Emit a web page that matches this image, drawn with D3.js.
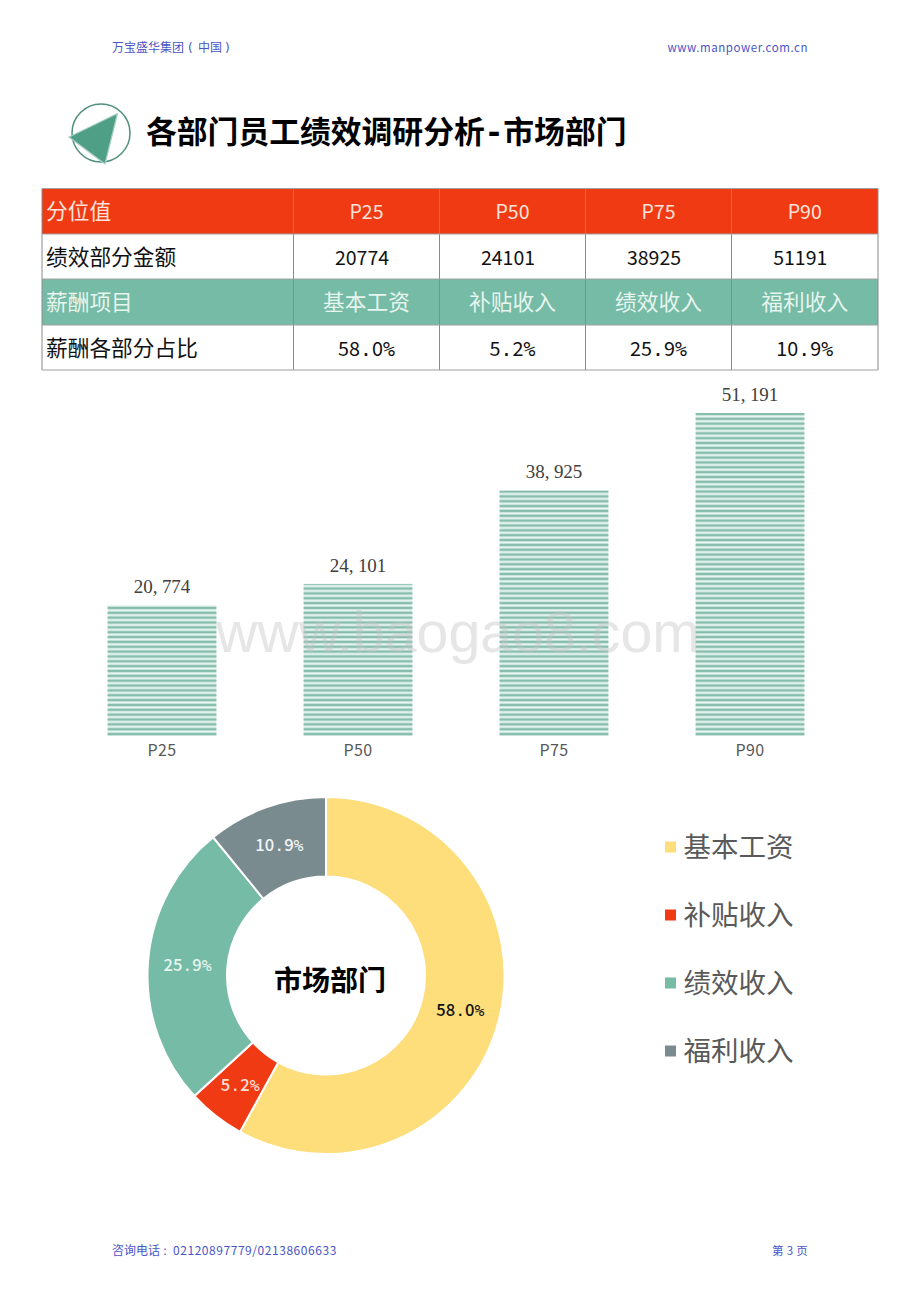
<!DOCTYPE html>
<html>
<head>
<meta charset="utf-8">
<title>市场部门</title>
<script src="https://d3js.org/d3.v7.min.js"></script>
<style>
html, body { margin: 0; padding: 0; background: #fff; }
text { font-family: "Noto Sans CJK SC", "Noto Sans", sans-serif; }
</style>
</head>
<body>
<div id="page"></div>
<script>
var percentiles = ['P25', 'P50', 'P75', 'P90'];
var amounts = [20774, 24101, 38925, 51191];
var payItems = ['基本工资', '补贴收入', '绩效收入', '福利收入'];
var payShares = [58.0, 5.2, 25.9, 10.9];
var payColors = ['#fdde7b', '#ef3a14', '#76bba5', '#7a8b90'];
var donutLabelColors = ['#111', '#fde0d8', '#e6f5ef', '#f2f5f5'];

var W = 920, H = 1302;
var linkBlue = '#4a55c8';
var monoFont = '"DejaVu Sans Mono", monospace';
var svg = d3.select('#page').append('svg')
    .attr('width', W).attr('height', H).style('display', 'block');

// stripes for the bars
var pattern = svg.append('defs').append('pattern')
    .attr('id', 'stripes').attr('patternUnits', 'userSpaceOnUse')
    .attr('width', 8).attr('height', 4.85).attr('y', 736);
pattern.append('rect').attr('width', 8).attr('height', 4.85).attr('fill', '#eaf7f3');
pattern.append('rect').attr('width', 8).attr('height', 2.6).attr('y', 1.6).attr('fill', '#86bdac');

function label(x, y, txt, size, color, anchor) {
    return svg.append('text').attr('x', x).attr('y', y).text(txt)
        .attr('font-size', size).attr('fill', color).attr('text-anchor', anchor || 'start');
}

// 58.0% style text: the dot and the percent sign are wider in the reference
function writeShare(sel, value) {
    var parts = value.toFixed(1).split('.');
    sel.append('tspan').text(parts[0]);
    sel.append('tspan').text('.').style('font-family', monoFont);
    sel.append('tspan').text(parts[1]);
    sel.append('tspan').text('%').style('font-family', monoFont);
}

// header and footer
var company = label(112, 52, '万宝盛华集团', 12, linkBlue);
company.append('tspan').attr('x', 188).text('(').style('font-family', '"DejaVu Sans"');
company.append('tspan').attr('x', 198).text('中国');
company.append('tspan').attr('x', 225).text(')').style('font-family', '"DejaVu Sans"');
label(808, 52, 'www.manpower.com.cn', 11.5, linkBlue, 'end').style('letter-spacing', '0.55px');
var phone = label(112, 1255, '咨询电话', 12, linkBlue);
phone.append('tspan').attr('x', 163).text(':').style('font-family', '"DejaVu Sans"');
phone.append('tspan').attr('x', 173).text('02120897779/02138606633').style('letter-spacing', '0.55px');
label(808, 1255, '第 3 页', 11.5, linkBlue, 'end').style('letter-spacing', '0.3px');

// logo
svg.append('circle').attr('cx', 101).attr('cy', 133).attr('r', 29)
    .attr('fill', 'none').attr('stroke', '#4f8f7e').attr('stroke-width', 1.5);
svg.append('path').attr('d', 'M117.5,113.5L69,137L105,164Z')
    .attr('fill', '#4f9f87').attr('stroke', '#a9cfc4').attr('stroke-width', 1.2);

var title = label(146, 143, '各部门员工绩效调研分析', 30.8, '#000').attr('font-weight', 700);
title.append('tspan').text('-').style('font-family', monoFont);
title.append('tspan').text('市场部门');

// table
var colEdges = [42, 293.5, 439.5, 585.5, 731.5, 878];
var rowEdges = [188.5, 234, 279, 325, 370];
var tableRows = [
    { head: '分位值', cells: percentiles, fill: '#ef3a14', color: '#fde3da', size: 19.5, dx: 0 },
    { head: '绩效部分金额', cells: amounts.map(String), fill: '#fff', color: '#111', size: 19.5, dx: -4.5 },
    { head: '薪酬项目', cells: payItems, fill: '#76bba5', color: '#e6f5ef', size: 21.7, dx: 0 },
    { head: '薪酬各部分占比', cells: payShares, fill: '#fff', color: '#111', size: 19.8, dx: 0 }
];
var table = svg.append('g');
tableRows.forEach(function(row, r) {
    table.append('rect').attr('x', colEdges[0]).attr('y', rowEdges[r])
        .attr('width', colEdges[5] - colEdges[0]).attr('height', rowEdges[r + 1] - rowEdges[r])
        .attr('fill', row.fill);
    var my = (rowEdges[r] + rowEdges[r + 1]) / 2 + 8;
    table.append('text').attr('x', colEdges[0] + 4).attr('y', my).text(row.head)
        .attr('font-size', 21.7).attr('fill', row.color);
    row.cells.forEach(function(c, i) {
        var t = table.append('text').attr('x', (colEdges[i + 1] + colEdges[i + 2]) / 2 + row.dx).attr('y', my)
            .attr('text-anchor', 'middle').attr('fill', row.color).attr('font-size', row.size);
        if (typeof c === 'number') writeShare(t, c);
        else t.text(c);
    });
});
colEdges.forEach(function(x) {
    table.append('line').attr('x1', x).attr('x2', x)
        .attr('y1', rowEdges[0]).attr('y2', rowEdges[4]).attr('stroke', '#8a8a8a');
});
rowEdges.forEach(function(y) {
    table.append('line').attr('x1', colEdges[0]).attr('x2', colEdges[5])
        .attr('y1', y).attr('y2', y).attr('stroke', '#a0a0a0');
});

// bars
var xBar = d3.scaleBand().domain(percentiles).range([64, 848]).paddingInner(0.4444).paddingOuter(0.2222);
var yBar = d3.scaleLinear().domain([0, 51191]).range([736, 413]);
svg.selectAll('.bar').data(amounts).enter().append('rect')
    .attr('class', 'bar')
    .attr('x', function(d, i) { return xBar(percentiles[i]); })
    .attr('y', function(d) { return yBar(d); })
    .attr('width', xBar.bandwidth())
    .attr('height', function(d) { return 736 - yBar(d); })
    .attr('fill', 'url(#stripes)');
svg.selectAll('.barLabel').data(amounts).enter().append('text')
    .attr('class', 'barLabel')
    .attr('x', function(d, i) { return xBar(percentiles[i]) + xBar.bandwidth() / 2; })
    .attr('y', function(d) { return yBar(d) - 12; })
    .attr('text-anchor', 'middle').attr('font-size', 19).attr('fill', '#404040')
    .style('font-family', '"Liberation Serif", serif')
    .style('letter-spacing', '-0.1px')
    .text(function(d) { return d3.format(',')(d).replace(',', ', '); });
var xAxis = svg.append('g').attr('transform', 'translate(0,736)')
    .call(d3.axisBottom(xBar).tickSize(0).tickPadding(9));
xAxis.select('.domain').remove();
xAxis.selectAll('text').attr('font-size', 16).attr('fill', '#595959')
    .style('font-family', '"Noto Sans CJK SC", sans-serif')
    .style('letter-spacing', '0.4px');

// watermark
label(458, 652, 'www.baogao8.com', 57.3, '#c4c4c4', 'middle')
    .attr('opacity', 0.42).style('font-family', '"Liberation Sans", sans-serif');

// donut
var cx = 326, cy = 975.5;
var pie = d3.pie().sort(null)(payShares);
var arc = d3.arc().innerRadius(99).outerRadius(178.5);
var donut = svg.append('g').attr('transform', 'translate(' + cx + ',' + cy + ')');
donut.selectAll('path').data(pie).enter().append('path')
    .attr('d', arc)
    .attr('fill', function(d, i) { return payColors[i]; })
    .attr('stroke', '#fff').attr('stroke-width', 2);
donut.selectAll('text.share').data(pie).enter().append('text')
    .attr('class', 'share')
    .attr('transform', function(d) { return 'translate(' + arc.centroid(d) + ')'; })
    .attr('dy', 6).attr('text-anchor', 'middle').attr('font-size', 16.6).attr('font-weight', 500)
    .attr('fill', function(d, i) { return donutLabelColors[i]; })
    .each(function(d, i) { writeShare(d3.select(this), payShares[i]); });
label(330, 991, '市场部门', 28, '#000', 'middle').attr('font-weight', 700);

// legend
var yLegend = d3.scalePoint().domain(payItems).range([847, 1051]);
var legend = svg.selectAll('.legend').data(payItems).enter().append('g').attr('class', 'legend')
    .attr('transform', function(d) { return 'translate(665,' + yLegend(d) + ')'; });
legend.append('rect').attr('y', -5.5).attr('width', 11).attr('height', 11)
    .attr('fill', function(d, i) { return payColors[i]; });
legend.append('text').attr('x', 18.5).attr('y', 10).attr('font-size', 27.5).attr('fill', '#595959')
    .text(function(d) { return d; });
</script>
</body>
</html>
